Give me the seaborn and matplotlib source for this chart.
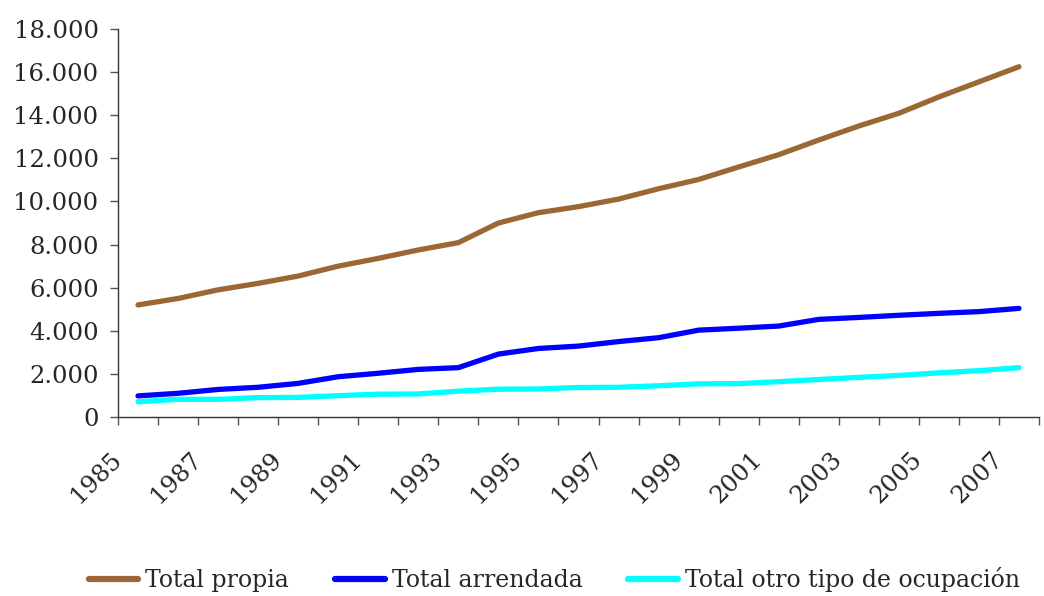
import matplotlib
matplotlib.use("Agg")
import matplotlib.pyplot as plt
from matplotlib.ticker import FuncFormatter, FixedLocator
from matplotlib.transforms import ScaledTranslation
import seaborn as sns
import pandas as pd

years = list(range(1985, 2008))
total_propia = [5200, 5500, 5900, 6200, 6540, 7000, 7360, 7750, 8090, 9000, 9480, 9760,
                10110, 10590, 11020, 11600, 12170, 12850, 13500, 14090, 14850, 15550, 16250]
total_arrendada = [980, 1100, 1280, 1380, 1560, 1870, 2030, 2210, 2290, 2920, 3180, 3290,
                   3500, 3680, 4030, 4120, 4220, 4530, 4620, 4720, 4810, 4890, 5040]
total_otro = [710, 820, 820, 900, 910, 990, 1060, 1070, 1200, 1290, 1300, 1370,
              1380, 1450, 1540, 1550, 1640, 1740, 1840, 1930, 2050, 2150, 2290]
series_names = ["Total propia", "Total arrendada", "Total otro tipo de ocupación"]
colors = ["#9B6835", "#0000FF", "#00FFFF"]

rows = []
for name, vals in zip(series_names, [total_propia, total_arrendada, total_otro]):
    for i, (y, v) in enumerate(zip(years, vals)):
        rows.append({"idx": i, "year": y, "value": v, "serie": name})
df = pd.DataFrame(rows)

sns.set_theme(style="white")
plt.rcParams["font.family"] = ["DejaVu Serif"]

fig = plt.figure(figsize=(10.44, 5.96), dpi=100)
ax = fig.add_axes([0.113, 0.3003, 0.8822, 0.651])

sns.lineplot(data=df, x="idx", y="value", hue="serie", hue_order=series_names,
             palette=colors, linewidth=3.8, ax=ax, legend=True)
for ln in ax.get_lines():
    ln.set_solid_capstyle("round")

ax.set_xlim(-0.5, len(years) - 0.5)
ax.set_ylim(0, 18000)
ax.set_yticks(range(0, 18001, 2000))
ax.yaxis.set_major_formatter(FuncFormatter(lambda v, p: f"{int(v):,}".replace(",", ".")))

major = list(range(0, len(years), 2))
ax.xaxis.set_major_locator(FixedLocator(major))
ax.set_xticklabels([str(years[i]) for i in major])
ax.xaxis.set_minor_locator(FixedLocator([i - 0.5 for i in range(len(years) + 1)]))
ax.tick_params(axis="x", which="major", length=0, pad=28, labelsize=17.5)
ax.tick_params(axis="x", which="minor", length=6, width=1, color="#555555", direction="out", bottom=True)
ax.tick_params(axis="y", length=6, width=1, color="#555555", direction="out", left=True, pad=8, labelsize=17.5)
for lab in ax.get_xticklabels():
    lab.set_rotation(45)
    lab.set_ha("right")
    lab.set_va("center")
    lab.set_rotation_mode("anchor")
    lab.set_transform(lab.get_transform() + ScaledTranslation(-0.2, 0, fig.dpi_scale_trans))

ax.set_xlabel("")
ax.set_ylabel("")
for s in ["top", "right"]:
    ax.spines[s].set_visible(False)
for s in ["left", "bottom"]:
    ax.spines[s].set_color("#333333")
    ax.spines[s].set_linewidth(1)

handles, labels = ax.get_legend_handles_labels()
ax.legend_.remove()
leg = fig.legend(handles, labels, loc="center", bbox_to_anchor=(0.531, 0.027), ncol=3,
                 frameon=False, fontsize=17, handlelength=2.1, handletextpad=0.3,
                 columnspacing=1.95)
for h in leg.get_lines():
    h.set_linewidth(4.5)
    h.set_solid_capstyle("round")

fig.savefig("out.png", dpi=100, facecolor="white")
